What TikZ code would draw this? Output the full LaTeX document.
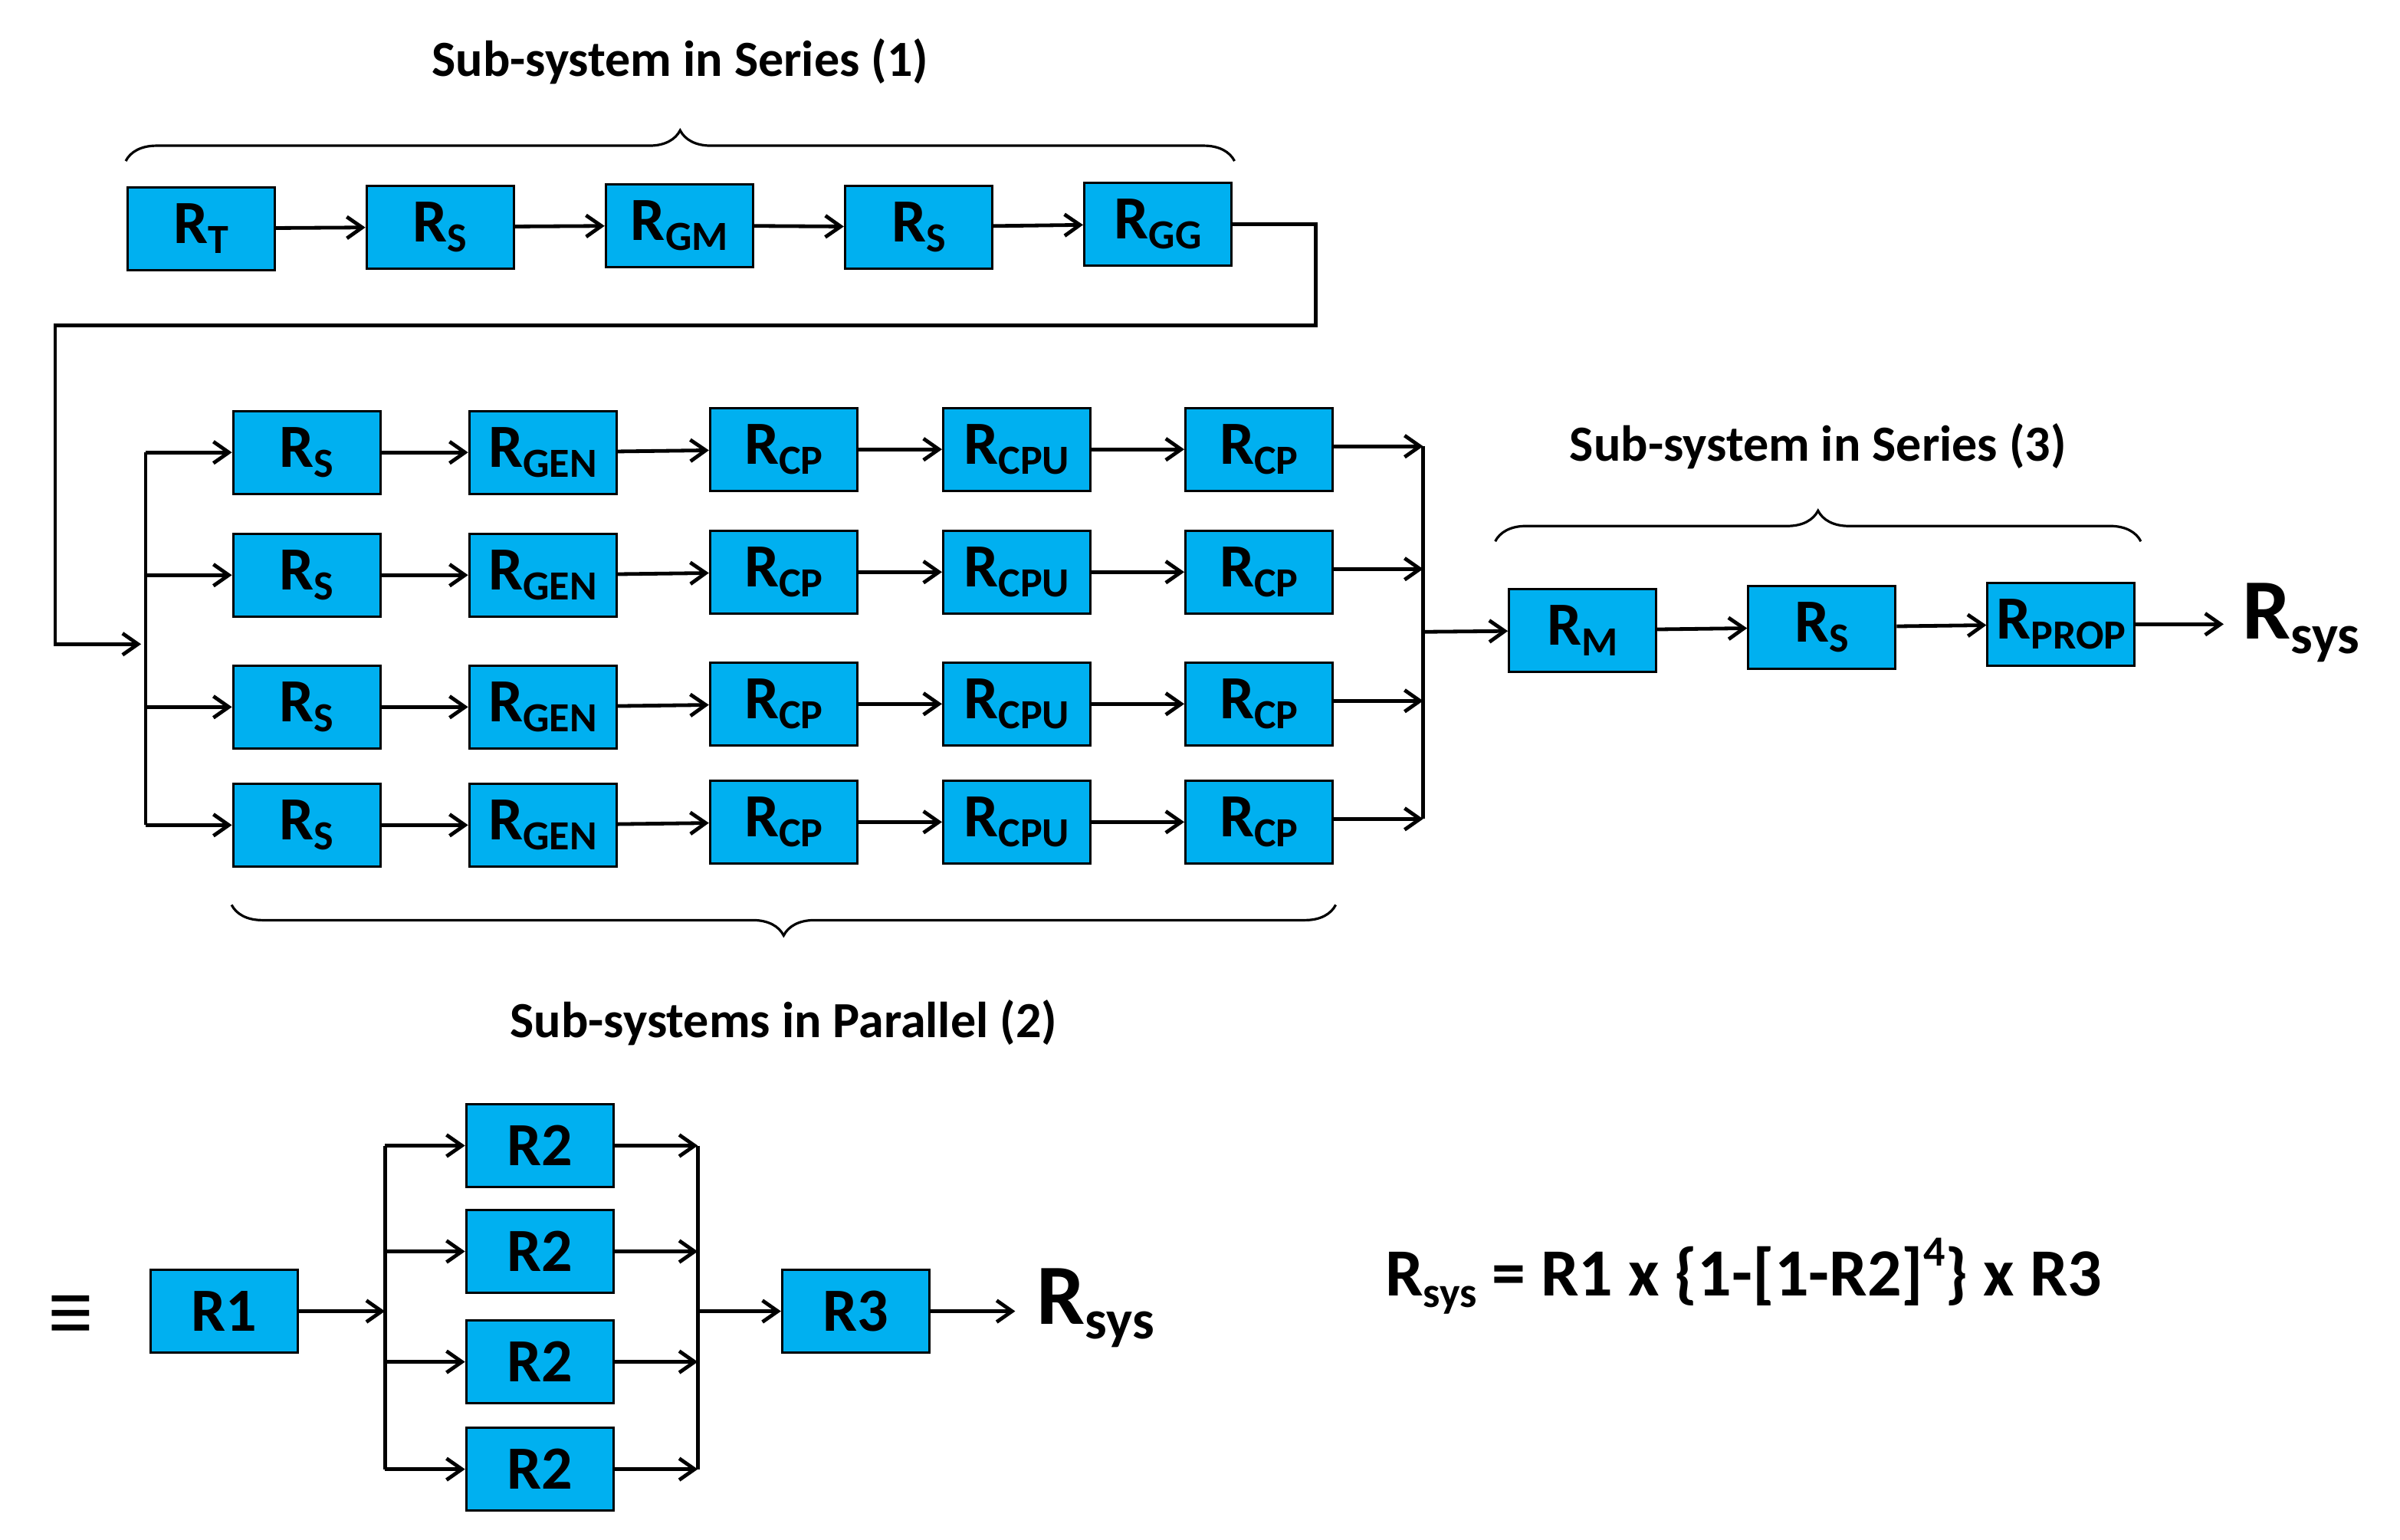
\documentclass[tikz,border=0pt]{standalone}
\usepackage{fontspec}
\setmainfont{Carlito}
\usetikzlibrary{decorations.pathreplacing,arrows.meta}
\newcommand{\sbs}[1]{\raisebox{-0.35ex}{\fontsize{27}{27}\selectfont #1}}
\begin{document}
\begin{tikzpicture}[x=1pt,y=-1pt,
 box/.style={draw=black,line width=1.5pt,fill=bcol,minimum width=96pt,minimum height=54pt,inner sep=0pt,font=\fontsize{40}{40}\selectfont\bfseries},
 ar/.style={-{Straight Barb[length=10pt,width=14pt,line width=2.4pt]},line width=2.4pt},
 ln/.style={line width=2.4pt},
 lab/.style={font=\fontsize{33}{33}\selectfont\bfseries},
 br/.style={decorate,decoration={brace,amplitude=20pt},line width=1.6pt}]
\definecolor{bcol}{HTML}{00B0F0}
\useasboundingbox (0,0) rectangle (1565,1004);
% row 1
\node[box] (t) at (131,149) {R\sbs{T}};
\node[box] (s1) at (287,148) {R\sbs{S}};
\node[box] (gm) at (443,147) {R\sbs{GM}};
\node[box] (s2) at (599,148) {R\sbs{S}};
\node[box] (gg) at (755,146) {R\sbs{GG}};
\draw[ar] (t) -- (s1); \draw[ar] (s1) -- (gm); \draw[ar] (gm) -- (s2); \draw[ar] (s2) -- (gg);
\coordinate (in) at (92,420);
\draw[ar] (gg.east) -- (858,146) -- (858,212) -- (36,212) -- (36,420) -- (in);
\draw[br] (82,105) -- node[lab,above=46pt]{Sub-system in Series (1)} (805,105);
% parallel rows
\foreach \y/\i in {295/1,375/2,461/3,538/4}{
 \node[box] (a\i) at (200,\y) {R\sbs{S}};
 \node[box] (b\i) at (354,\y) {R\sbs{GEN}};
 \node[box] (c\i) at (511,\y-2) {R\sbs{CP}};
 \node[box] (d\i) at (663,\y-2) {R\sbs{CPU}};
 \node[box] (e\i) at (821,\y-2) {R\sbs{CP}};
 \coordinate (l\i) at (95,\y);
 \coordinate (r\i) at (928,\y-4);
 \draw[ar] (l\i) -- (a\i); \draw[ar] (a\i) -- (b\i); \draw[ar] (b\i) -- (c\i);
 \draw[ar] (c\i) -- (d\i); \draw[ar] (d\i) -- (e\i); \draw[ar] (e\i.east|-r\i) -- (r\i);
}
\draw[ln] (l1) -- (l4);
\draw[ln] (r1) -- (r4);
\draw[br] (871,590) -- node[lab,below=58pt]{Sub-systems in Parallel (2)} (151,590);
% series 3
\node[box] (m) at (1032,411) {R\sbs{M}};
\node[box] (s3) at (1188,409) {R\sbs{S}};
\node[box] (p) at (1344,407) {R\sbs{PROP}};
\coordinate (mb) at (928,412);
\draw[ar] (mb) -- (m); \draw[ar] (m) -- (s3); \draw[ar] (s3) -- (p);
\node[font=\fontsize{56}{56}\selectfont\bfseries,anchor=west,inner sep=0pt] (rs) at (1462,406) {R\raisebox{-0.35ex}{\fontsize{36}{36}\selectfont sys}};
\draw[ar] (p) -- ([xshift=-12pt]rs.west|-p);
\draw[br] (975,353) -- node[lab,above=43pt]{Sub-system in Series (3)} (1396,353);
% bottom
\node[font=\fontsize{60}{60}\selectfont] (eq) at (46,860) {≡};
\node[box] (r1) at (146,855) {R1};
\foreach \y/\i in {747/1,816/2,888/3,958/4}{
 \node[box] (q\i) at (352,\y) {R2};
 \coordinate (bl\i) at (251,\y);
 \coordinate (br\i) at (455,\y);
 \draw[ar] (bl\i) -- (q\i); \draw[ar] (q\i) -- (br\i);
}
\coordinate (bin) at (251,855);
\coordinate (bout) at (455,855);
\draw[ar] (r1) -- (bin);
\draw[ln] (bl1) -- (bl4); \draw[ln] (br1) -- (br4);
\node[box] (r3) at (558,855) {R3};
\draw[ar] (bout) -- (r3);
\node[font=\fontsize{56}{56}\selectfont\bfseries,anchor=west,inner sep=0pt] (rs2) at (676,853) {R\raisebox{-0.35ex}{\fontsize{36}{36}\selectfont sys}};
\draw[ar] (r3) -- ([xshift=-14pt]rs2.west|-r3);
\node[font=\fontsize{44}{44}\selectfont\bfseries] (f) at (1137,832) {R\raisebox{-0.35ex}{\fontsize{28}{28}\selectfont sys} = R1 x \{1-[1-R2]\raisebox{0.9ex}{\fontsize{28}{28}\selectfont 4}\} x R3};
\end{tikzpicture}
\end{document}
